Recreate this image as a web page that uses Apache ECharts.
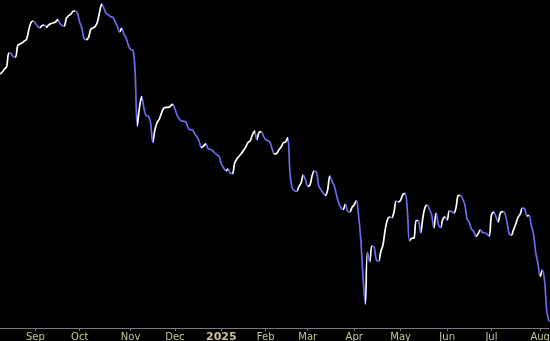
<!DOCTYPE html>
<html>
<head>
<meta charset="utf-8">
<script src="https://cdn.jsdelivr.net/npm/echarts@6/dist/echarts.min.js"></script>
<style>
html,body{margin:0;padding:0;background:#000;}
#chart{width:550px;height:341px;}
</style>
</head>
<body>
<div id="chart"></div>
<script>
// Daily closes (trading days, late Aug 2024 – early Aug 2025), arbitrary price units
const closes = [
254,256,259,261.3,275,274.5,271.3,271,282.5,284,
285.2,287,288.6,298,305.3,307,304.8,301.6,300.2,302.5,
302.8,300.8,303.2,304.3,305.1,305.8,308.5,304.8,302.5,302.2,
309.8,312.3,313.8,316.7,317,314.5,306,299.2,289,288.4,
290.7,298.7,300,301.5,306,316,323.8,319.5,314.6,313.2,
311.3,310.8,306,301.7,296,299.6,294,289.6,282.8,278.5,
278,258,202,220.5,231.3,220,212.5,212,205.5,185.5,
198.5,205.5,209,215.3,219.9,220.7,220.7,221.9,223.7,219.5,
213,209,207,206.8,206,200,198.2,198,194.2,191,
186.5,180.5,182,184.2,179.3,178.7,177.5,175,173.3,171.5,
164,160.3,157.2,159,154.7,154.5,165,169,171.8,174.5,
177.5,181,185.5,187,193,197,188.3,195.4,196.3,191.8,
188.4,187.5,185.5,178.5,174,174.7,178.2,181,185.3,186,
190.5,155,140,137.4,136.7,141.3,145,152.8,148.2,141.7,
142.8,152.3,157,155.5,142,138.4,134.9,132.7,138,152,
146.7,142,133.2,125,120.2,118.5,123.8,117.2,116,120.5,
123.2,127.5,112,88,50,24,76,66,82,81,
68,67,76.3,83,98,108.2,111,110.4,116.5,127,
126,128,133.5,134.7,118,87,89.7,90,107.5,107.5,
95,110,120.7,123,118.8,113,100,115,104,100.5,
108.5,111.2,108,117.2,116.5,115,120.5,132.5,132.7,128.8,
123,109,105.5,98.8,96.8,91.7,94.2,98.2,95.4,95.2,
93.8,92,113,116,111.5,106,115,116.3,115,106,
94.3,93,98.5,104.2,110.6,113.8,120,119.5,112.2,112.5,
102.5,94,75.5,64.5,51.5,58,47,17,6.4
];
// First trading day of each month (index into closes) and its tick label
const monthStartIdx = [16,36,59,79,100,120,139,160,181,202,222,244];
const monthLabels = ['Sep','Oct','Nov','Dec','2025','Feb','Mar','Apr','May','Jun','Jul','Aug'];
const yearLabels = ['2025'];

const categories = closes.map((_, i) => 'd' + i);
const labelAt = {};
monthStartIdx.forEach((idx, k) => { labelAt[idx] = monthLabels[k]; });

const UP = '#ffffff', DOWN = '#6a6aec';
// colour each run of rising / falling segments
const pieces = [];
let runStart = 0, runUp = closes[1] >= closes[0];
for (let i = 2; i < closes.length; i++) {
  const up = closes[i] >= closes[i - 1];
  if (up !== runUp) {
    pieces.push({ start: runStart, end: i - 1, up: runUp });
    runStart = i - 1; runUp = up;
  }
}
pieces.push({ start: runStart, end: closes.length - 1, up: runUp });
const vmPieces = pieces.map((p, k) => {
  const o = { lte: p.end, color: p.up ? UP : DOWN };
  if (k === 0) o.gte = p.start; else o.gt = p.start;
  return o;
});

const chart = echarts.init(document.getElementById('chart'), null, { renderer: 'canvas' });
chart.setOption({
  backgroundColor: '#000000',
  animation: false,
  grid: { left: 0, right: 1, top: 0, bottom: 13, outerBoundsMode: 'none', containLabel: false },
  xAxis: {
    type: 'category',
    data: categories,
    boundaryGap: false,
    axisLine: { show: true, lineStyle: { color: '#7a7a7a', width: 1 } },
    axisTick: {
      show: true, length: 3, inside: false,
      interval: (idx) => labelAt[idx] !== undefined,
      lineStyle: { color: '#7a7a7a' }
    },
    axisLabel: {
      show: true,
      interval: (idx) => labelAt[idx] !== undefined,
      margin: 4,
      color: '#c9c595',
      fontFamily: 'DejaVu Sans',
      fontSize: 10,
      formatter: (v, idx) => {
        const t = labelAt[idx] || '';
        return yearLabels.indexOf(t) >= 0 ? '{y|' + t + '}' : t;
      },
      rich: { y: { fontWeight: 'bold', fontSize: 11, color: '#c9c595', fontFamily: 'DejaVu Sans' } }
    },
    splitLine: { show: false }
  },
  yAxis: {
    type: 'value', min: 0, max: 328, show: false, splitLine: { show: false }
  },
  visualMap: {
    show: false,
    type: 'piecewise',
    dimension: 0,
    seriesIndex: 0,
    pieces: vmPieces,
    outOfRange: { color: DOWN }
  },
  series: [{
    type: 'line',
    data: closes,
    showSymbol: false,
    symbol: 'none',
    smooth: 0.35,
    lineStyle: { width: 1.7 },
    clip: false
  }]
});
</script>
</body>
</html>
